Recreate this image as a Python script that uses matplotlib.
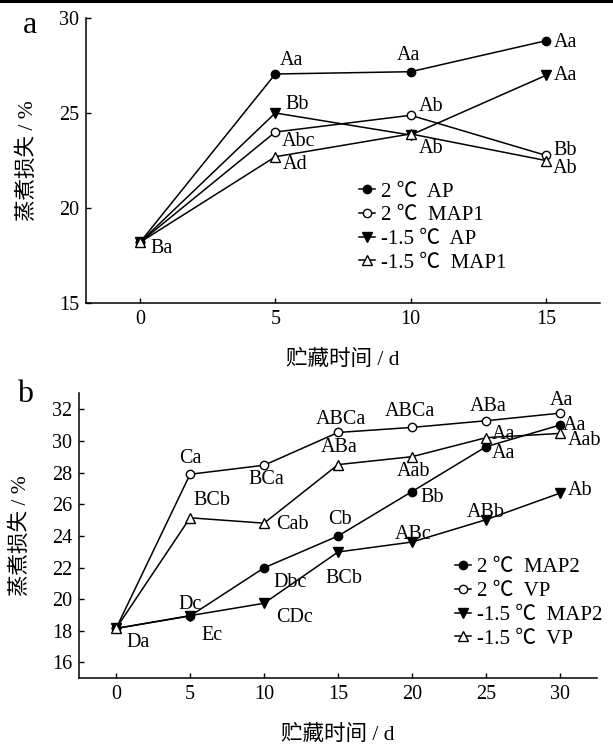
import matplotlib.pyplot as plt
from matplotlib.lines import Line2D

plt.rcParams['font.family'] = ['Liberation Serif', 'Noto Sans CJK SC']
plt.rcParams['axes.unicode_minus'] = False

# Dades panell a
dias_a = [0, 5, 10, 15]
ap_2 = [18.2, 27.05, 27.17, 28.8]
map1_2 = [18.2, 24.0, 24.88, 22.77]
ap_m15 = [18.2, 25.0, 23.84, 26.98]
map1_m15 = [18.2, 22.7, 23.9, 22.5]
series_a = ['2 ℃  AP', '2 ℃  MAP1', '-1.5 ℃  AP', '-1.5 ℃  MAP1']
letras_a = [['Ba', 'Aa', 'Aa', 'Aa'],
            ['', 'Abc', 'Ab', 'Bb'],
            ['', 'Bb', 'Ab', 'Aa'],
            ['', 'Ad', '', 'Ab']]

# Dades panell b
dias_b = [0, 5, 10, 15, 20, 25, 30]
map2_2 = [18.15, 18.94, 21.98, 23.99, 26.8, 29.63, 31.0]
vp_2 = [18.15, 27.89, 28.46, 30.53, 30.85, 31.27, 31.75]
map2_m15 = [18.15, 18.96, 19.74, 22.98, 23.61, 25.02, 26.7]
vp_m15 = [18.15, 25.14, 24.8, 28.5, 29.0, 30.2, 30.47]
series_b = ['2 ℃  MAP2', '2 ℃  VP', '-1.5 ℃  MAP2', '-1.5 ℃  VP']
letras_b = [['Da', 'Ec', 'Dbc', 'Cb', 'Bb', 'Aa', 'Aa'],
            ['', 'Ca', 'BCa', 'ABCa', 'ABCa', 'ABa', 'Aa'],
            ['', 'Dc', 'CDc', 'BCb', 'ABc', 'ABb', 'Ab'],
            ['', 'BCb', 'Cab', 'ABa', 'Aab', 'Aa', 'Aab']]

# desplaçaments de les lletres (pixels)
off_a = [[(10, -6), (4, 13), (-14, 16), (8, -2)],
         [(0, 0), (6, -9), (8, 9), (7, 5)],
         [(0, 0), (10, 8), (8, -13), (8, 0)],
         [(0, 0), (7, -8), (0, 0), (7, -8)]]
off_b = [[(10, -14), (11, -20), (9, -15), (-10, 16), (8, -6), (6, -7), (3, 0)],
         [(0, 0), (-11, 16), (-16, -14), (-22, 13), (-27, 16), (-16, 14), (-10, 13)],
         [(0, 0), (-12, 11), (12, -14), (-13, -27), (-17, 8), (-19, 7), (8, 3)],
         [(0, 0), (3, 17), (12, -1), (-17, 17), (-15, -15), (6, 3), (8, -7)]]

marcadores = [dict(marker='o', mfc='black', ms=6),
              dict(marker='o', mfc='white', ms=6),
              dict(marker='v', mfc='black', ms=7),
              dict(marker='^', mfc='white', ms=7)]


def dibuixa(ax, dias, valores, nombres, letras, offs, leg_pos):
    for i in range(4):
        ax.plot(dias, valores[i], color='black', lw=1.1, mec='black',
                mew=1.0, label=nombres[i], **marcadores[i])
        for j in range(len(dias)):
            if letras[i][j]:
                ax.annotate(letras[i][j], (dias[j], valores[i][j]),
                            xytext=offs[i][j], textcoords='offset pixels',
                            ha='left', va='center', fontsize=14.5)
    for s in ['top', 'right']:
        ax.spines[s].set_visible(False)
    for s in ['left', 'bottom']:
        ax.spines[s].set_linewidth(1.1)
    ax.tick_params(direction='in', length=3.5, width=1.0, labelsize=14.5, pad=5)
    ax.set_ylabel('蒸煮损失 / %', fontsize=15.5, labelpad=15)
    ax.set_xlabel('贮藏时间 / d', fontsize=15.5, labelpad=15)
    ax.legend(loc='upper left', bbox_to_anchor=leg_pos, frameon=False,
              fontsize=15, handlelength=0.75, handletextpad=0.3,
              labelspacing=0.2, borderpad=0, borderaxespad=0)


fig = plt.figure(figsize=(6.13, 7.45), dpi=100)
ax1 = fig.add_axes([0.140, 0.593, 0.839, 0.383])
ax2 = fig.add_axes([0.129, 0.0895, 0.845, 0.3825])

dibuixa(ax1, dias_a, [ap_2, map1_2, ap_m15, map1_m15], series_a, letras_a, off_a, (0.531, 0.425))
ax1.set_xlim(-2, 17)
ax1.set_ylim(15, 30)
ax1.set_xticks(dias_a)
ax1.set_yticks([15, 20, 25, 30])

dibuixa(ax2, dias_b, [map2_2, vp_2, map2_m15, vp_m15], series_b, letras_b, off_b, (0.726, 0.423))
ax2.set_xlim(-2.5, 32.5)
ax2.set_ylim(15, 33)
ax2.set_xticks(dias_b)
ax2.set_yticks(range(16, 33, 2))

fig.text(0.049, 0.966, 'a', fontsize=23, ha='center', va='center')
fig.text(0.041, 0.47, 'b', fontsize=23, ha='center', va='center')
fig.add_artist(Line2D([0, 1], [0.998, 0.998], lw=2.2, color='black', transform=fig.transFigure))

plt.savefig('out.png', dpi=100)
